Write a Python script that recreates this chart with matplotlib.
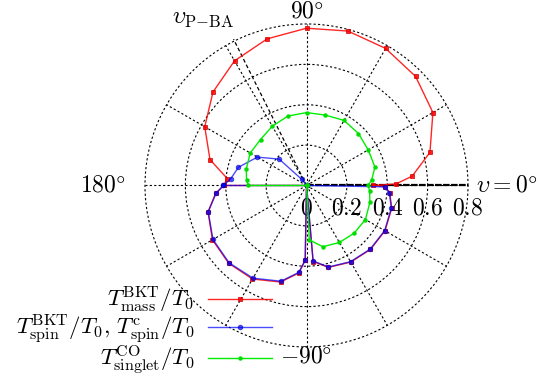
import numpy as np
import matplotlib
matplotlib.use('Agg')
import matplotlib.pyplot as plt

plt.rcParams['mathtext.fontset'] = 'cm'
plt.rcParams['font.family'] = ['DejaVu Serif']

# ---- data (angle in degrees, radius in units of T0) ----
mass_theta = [-180, -180, -175, -165, -150, -135, -120, -105, -95, -91, -90,
              -85, -75, -60, -45, -30, -15, -5, -1, 0, 1, 5, 15, 30, 45, 60,
              75, 90, 105, 120, 135, 150, 165, 175, 180]
mass_r = [0.0, 0.41, 0.452, 0.505, 0.538, 0.545, 0.535, 0.495, 0.435, 0.37, 0.0,
          0.378, 0.42, 0.438, 0.448, 0.449, 0.437, 0.414, 0.39, 0.33, 0.443, 0.525,
          0.633, 0.723, 0.764, 0.784, 0.792, 0.779, 0.752, 0.713, 0.655, 0.582,
          0.495, 0.394, 0.41]

spin_theta = [-180, -180, -175, -165, -150, -135, -120, -105, -95, -91, -90,
              -85, -75, -60, -45, -30, -15, -5, -1, 1, 120, 128, 136, 150, 165,
              175, 180]
spin_r = [0.0, 0.412, 0.45, 0.504, 0.535, 0.542, 0.530, 0.491, 0.432, 0.369, 0.0,
          0.375, 0.418, 0.436, 0.446, 0.447, 0.435, 0.412, 0.388, 0.0, 0.0, 0.039,
          0.188, 0.281, 0.349, 0.377, 0.412]

singlet_theta = [-180, -90, -87, -75, -60, -45, -30, -15, -5, 0, 5, 15, 30, 45,
                 60, 75, 90, 105, 120, 135, 150, 165, 175, 180, 180]
singlet_r = [0.0, 0.0, 0.27, 0.314, 0.326, 0.334, 0.337, 0.325, 0.314, 0.306,
             0.324, 0.351, 0.353, 0.364, 0.372, 0.361, 0.361, 0.356, 0.339, 0.322,
             0.322, 0.309, 0.298, 0.288, 0.0]

r_ticks = [0.2, 0.4, 0.6, 0.8]
r_tick_labels = ['0', '0.2', '0.4', '0.6', '0.8']
r_tick_label_pos = [0.0, 0.2, 0.4, 0.6, 0.8]
theta_grid = list(range(0, 360, 30))
p_ba_angle = 116.5

labels = [r'$T^{\rm BKT}_{\rm mass}/T_0$',
          r'$T^{\rm BKT}_{\rm spin}/T_0,\, T^{\rm c}_{\rm spin}/T_0$',
          r'$T^{\rm CO}_{\rm singlet}/T_0$']

FS = 17

fig = plt.figure(figsize=(5.39, 3.77), dpi=100)
ax = fig.add_axes([0.269, 0.0796, 0.5993, 0.8568], projection='polar')
ax.set_ylim(0, 0.8)
ax.set_rgrids(r_ticks, labels=[''] * len(r_ticks))
ax.set_thetagrids(theta_grid, labels=[''] * len(theta_grid))
ax.grid(True, color='k', linestyle=(0, (2, 2)), linewidth=0.8)
for gl in ax.yaxis.get_gridlines() + ax.xaxis.get_gridlines():
    gl.set_clip_on(False)
ax.spines['polar'].set_visible(False)

# reference lines
ax.plot(np.deg2rad([0, 0]), [0, 0.8], color='k', lw=1.6, ls=(0, (3, 0.6)),
        zorder=2, clip_on=False)
ax.plot(np.deg2rad([p_ba_angle, p_ba_angle]), [0, 0.81], color='k', lw=0.9,
        ls=(0, (3, 2)), zorder=2, clip_on=False)

l1, = ax.plot(np.deg2rad(mass_theta), mass_r, color='red', lw=1.0, alpha=0.85,
              marker='s', ms=3.2, mfc='red', mec='#cc0000', mew=0.6, zorder=3,
              clip_on=False)
l2, = ax.plot(np.deg2rad(spin_theta), spin_r, color='blue', lw=1.0, alpha=0.7,
              marker='o', ms=3.4, mfc='blue', mec='#0000aa', mew=0.5, zorder=4,
              clip_on=False)
l3, = ax.plot(np.deg2rad(singlet_theta), singlet_r, color='#00ee00', lw=1.0,
              alpha=1.0, marker='o', ms=2.2, mfc='#00dd00', mec='#00dd00',
              zorder=5, clip_on=False)

# radial labels below 0-degree line
for lab, rp in zip(r_tick_labels, r_tick_label_pos):
    ax.annotate('$%s$' % lab, xy=(0, rp), xytext=(0, -23),
                textcoords='offset pixels', ha='center', va='center',
                fontsize=FS, annotation_clip=False)

ax.text(np.deg2rad(90), 0.862, r'$90\degree$', ha='center', va='center', fontsize=FS)
ax.text(np.deg2rad(-90), 0.845, r'$-90\degree$', ha='center', va='center', fontsize=FS)
ax.text(np.deg2rad(180), 0.895, r'$180\degree$', ha='right', va='center', fontsize=FS)
ax.text(np.deg2rad(0), 0.838, r'$\upsilon = 0\degree$', ha='left', va='center', fontsize=FS)
ax.text(np.deg2rad(121.7), 0.975, r'$\upsilon_{\rm P{-}BA}$', ha='center', va='center',
        fontsize=FS)

leg = fig.legend([l1, l2, l3], labels, loc='upper right',
                 bbox_to_anchor=(272 / 539, 1 - 285 / 377), frameon=False,
                 markerfirst=False, fontsize=16.5, handlelength=2.8,
                 handletextpad=0.6, labelspacing=-0.1, borderpad=0,
                 borderaxespad=0)

fig.savefig('out.png', dpi=100)
